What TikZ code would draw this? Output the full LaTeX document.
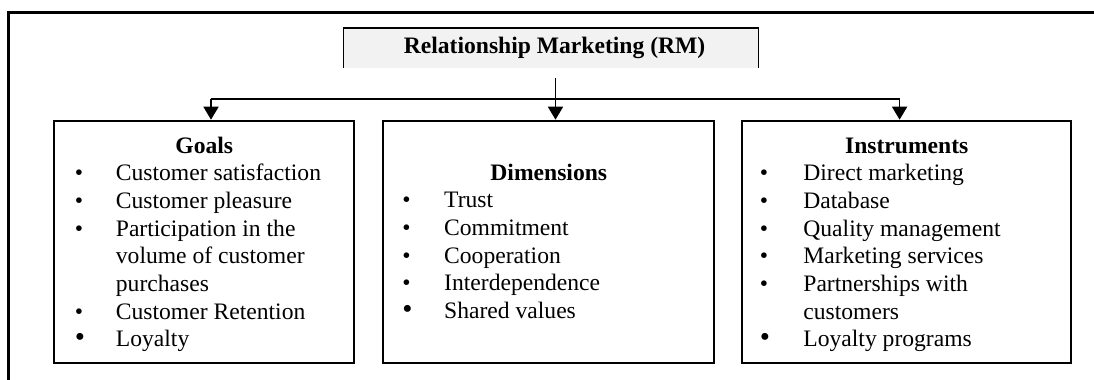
\documentclass[tikz,border=0pt]{standalone}
\usepackage{fontspec}
\setmainfont{Liberation Serif}
\usepackage{array}
\usetikzlibrary{arrows.meta}

\newcommand{\grotebol}{{\fontsize{14.5pt}{14pt}\selectfont\textbullet}}

\begin{document}
\begin{tikzpicture}[x=0.5pt, y=-0.5pt,
        every node/.style={font=\fontsize{11.8pt}{13.85pt}\selectfont},
        kader/.style={line width=1.5pt},
        blok/.style={draw, line width=1pt, minimum height=121.2pt, inner sep=0pt},
        lijst/.style={anchor=base west, inner sep=0pt},
        lijn/.style={line width=0.85pt},
        pijl/.style={lijn, -{Triangle[width=7.5pt,length=6.5pt]}}]
        \useasboundingbox (0,0) rectangle (1094,380);
        % kader
        \draw [kader] (8.4,380) -- (8.4,12.3) -- (1094,12.3);
        % kop
        \node [fill=gray!10, minimum width=207pt, minimum height=19.85pt, inner sep=0pt] (rm) at (551,48.2) {\hspace*{3.6pt}\textbf{Relationship Marketing (RM)}};
        \draw [line width=0.8pt] (rm.south west) |- (rm.north east) -- (rm.south east);
        % blokken
        \node [blok, minimum width=150.4pt] (goals) at (204,241.9) {};
        \node [blok, minimum width=165.1pt] (dims) at (548.4,241.9) {};
        \node [blok, minimum width=164.7pt] (instr) at (906.3,241.9) {};
        % lijsten
        \node [lijst] (goalstext) at (74.5,153) {\begin{tabular}[t]{@{}p{20.5pt}@{}p{108.9pt}@{}}
            \multicolumn{2}{@{}c@{}}{\textbf{Goals}}\\
            \textbullet & Customer satisfaction\\
            \textbullet & Customer pleasure\\
            \textbullet & Participation in the\\
            & volume of customer\\
            & purchases\\
            \textbullet & Customer Retention\\
            \grotebol & Loyalty
        \end{tabular}};
        \node [lijst] (dimstext) at (402,180) {\begin{tabular}[t]{@{}p{20.9pt}@{}p{125.5pt}@{}}
            \multicolumn{2}{@{}c@{}}{\textbf{Dimensions}}\\
            \textbullet & Trust\\
            \textbullet & Commitment\\
            \textbullet & Cooperation\\
            \textbullet & Interdependence\\
            \grotebol & Shared values
        \end{tabular}};
        \node [lijst] (instrtext) at (759.4,153) {\begin{tabular}[t]{@{}p{21.8pt}@{}p{125.1pt}@{}}
            \multicolumn{2}{@{}c@{}}{\textbf{Instruments}}\\
            \textbullet & Direct marketing\\
            \textbullet & Database\\
            \textbullet & Quality management\\
            \textbullet & Marketing services\\
            \textbullet & Partnerships with\\
            & customers\\
            \grotebol & Loyalty programs
        \end{tabular}};
        % pijlen
        \coordinate (split) at (555.5,99.3);
        \coordinate (links) at (211,99.3);
        \coordinate (rechts) at (899.6,99.3);
        \draw [pijl, shorten <=5pt] (split |- rm.south) -- (split |- dims.north);
        \draw [lijn] (links) -- (rechts);
        \draw [pijl] (links) -- (links |- goals.north);
        \draw [pijl] (rechts) -- (rechts |- instr.north);
    \end{tikzpicture}
\end{document}
